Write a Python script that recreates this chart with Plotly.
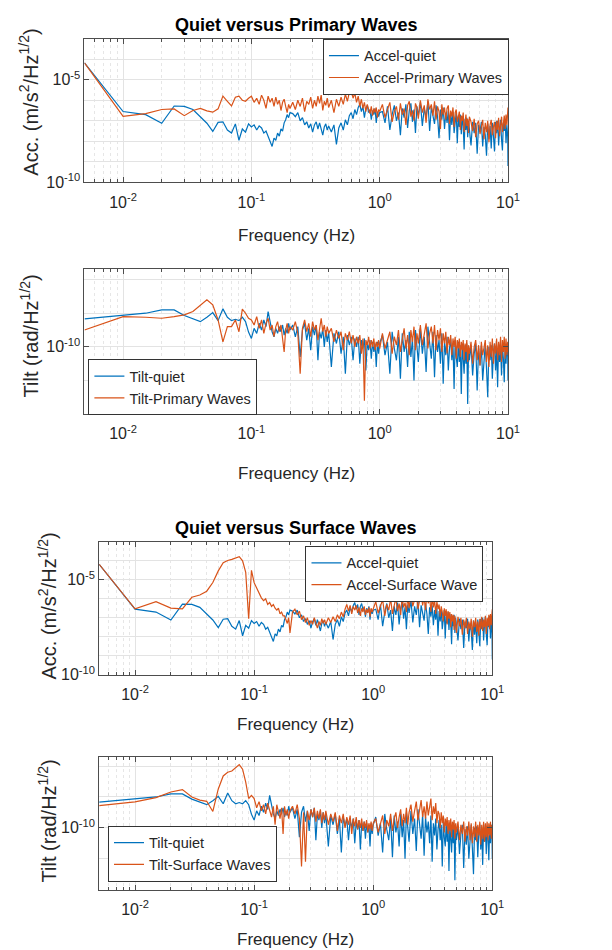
import plotly.graph_objects as go

# ---------------- frequency grid (FFT bins of 0.005 Hz, subsampled) ----------------
k_low = list(range(1, 41))                                   # 0.005 .. 0.200 Hz
k_mid = list(range(42, 81, 2)) + list(range(84, 201, 4))     # 0.21 .. 1.00 Hz
k_high = (list(range(210, 401, 10)) + list(range(415, 1001, 15))
          + list(range(1030, 1991, 30)) + [2000])            # 1.05 .. 10 Hz
freq = [round(k * 0.005, 4) for k in k_low + k_mid + k_high]

# ---------------- series values, log10 of amplitude ----------------
acc_quiet_log10 = [
    -4.18, -6.55, -6.70, -7.12, -6.28, -6.30, -6.45, -6.80, -7.12, -7.52,
    -7.08, -7.05, -7.45, -7.60, -7.15, -7.95, -7.40, -7.55, -7.15, -7.30,
    -7.20, -7.45, -7.25, -7.35, -7.60, -7.50, -7.75, -8.00, -8.25, -7.85,
    -7.95, -7.60, -7.75, -7.40, -7.50, -7.10, -6.95, -6.70, -6.85, -6.60,
    # mid
    -6.65, -6.80, -6.60, -7.00, -6.85, -7.20, -7.05, -7.35, -7.15, -7.55,
    -7.20, -7.05, -7.40, -7.10, -7.50, -7.70, -7.30, -7.15, -7.45, -7.25,
    -7.55, -7.20, -8.15, -7.35, -7.10, -7.45, -6.95, -7.20, -6.75, -6.60,
    -6.90, -6.45, -6.70, -6.35, -6.20, -6.55, -6.30, -6.85, -6.40, -6.25,
    -6.60, -6.45, -6.95, -6.50, -6.70, -6.40, -7.10, -6.55, -6.80, -6.60,
    # high
    -6.55, -7.10, -6.30, -7.45, -6.70, -6.25, -7.00, -6.60, -7.70, -6.40,
    -6.85, -6.20, -7.35, -6.50, -6.15, -7.05, -6.45, -7.60, -6.30, -6.75,
    -6.10, -7.25, -6.40, -6.85, -6.05, -7.50, -6.35, -6.70, -7.15, -6.25,
    -6.80, -7.85, -6.45, -6.95, -6.35, -7.40, -6.60, -7.10, -6.50, -7.95,
    -6.65, -7.20, -6.55, -7.60, -6.85, -6.60, -8.10, -6.75, -7.30, -6.70,
    -7.65, -6.80, -7.25, -8.40, -6.90, -7.45, -6.85, -7.80, -7.00, -7.35,
    -8.20, -7.05, -7.60, -7.10, -8.60, -7.20, -7.55, -7.05, -8.25, -7.30,
    -7.70, -8.70, -7.15, -7.90, -7.25, -8.35, -7.10, -7.75, -8.50, -7.05,
    -7.60, -7.00, -8.20, -7.35, -6.95, -7.90, -8.45, -7.10, -7.50, -6.90,
    -8.10, -7.20, -7.80, -9.20,
]

acc_primary_log10 = [
    -4.18, -6.78, -6.65, -6.45, -6.42, -6.75, -6.50, -6.40, -6.52, -6.58,
    -6.42, -5.80, -6.05, -6.28, -5.85, -5.80, -6.00, -6.05, -5.90, -5.80,
    -6.10, -5.90, -6.20, -5.75, -6.00, -6.40, -5.80, -6.10, -5.90, -6.30,
    -5.85, -6.20, -6.00, -6.50, -6.10, -5.95, -6.30, -6.60, -6.20, -6.40,
    # mid
    -6.10, -6.45, -6.00, -6.30, -5.90, -6.55, -6.05, -6.20, -5.85, -6.40,
    -6.00, -6.30, -5.80, -6.15, -5.75, -6.50, -6.05, -6.25, -5.90, -6.35,
    -6.00, -6.60, -5.95, -6.30, -5.85, -6.20, -5.70, -6.05, -5.60, -5.50,
    -5.90, -5.65, -6.10, -5.80, -6.30, -5.95, -6.40, -6.10, -6.55, -6.20,
    -6.45, -6.65, -6.30, -6.75, -6.40, -6.60, -6.35, -6.85, -6.45, -6.55,
    # high
    -6.20, -6.85, -6.45, -6.10, -7.05, -6.55, -6.30, -6.95, -6.15, -6.70,
    -6.40, -7.20, -6.25, -6.05, -6.80, -6.50, -7.00, -6.15, -6.35, -6.90,
    -6.00, -6.60, -6.25, -7.10, -5.95, -6.45, -6.20, -6.75, -6.05, -6.95,
    -6.30, -6.55, -7.40, -6.20, -6.70, -6.35, -6.95, -6.40, -6.25, -7.15,
    -6.50, -6.80, -6.35, -7.30, -6.60, -6.45, -7.05, -6.70, -6.55, -7.45,
    -6.75, -7.00, -6.60, -7.55, -6.85, -6.70, -7.25, -6.90, -7.60, -6.80,
    -7.05, -7.50, -6.90, -7.80, -7.15, -7.00, -7.65, -7.25, -6.95, -7.90,
    -7.10, -7.55, -7.00, -8.05, -7.20, -6.95, -7.70, -7.30, -7.05, -7.85,
    -7.00, -7.45, -6.85, -7.75, -7.10, -6.80, -7.55, -6.95, -6.75, -7.40,
    -6.70, -7.20, -6.60, -6.35,
]

acc_surface_log10 = [
    -4.18, -6.53, -6.15, -6.49, -6.53, -5.92, -5.80, -5.60, -5.14, -4.53,
    -4.10, -3.98, -3.92, -3.84, -3.78, -4.00, -4.60, -7.05, -4.50, -5.15,
    -5.45, -5.70, -5.95, -6.10, -6.00, -6.30, -6.20, -6.40, -6.30, -6.50,
    -6.60, -6.50, -6.80, -6.70, -6.90, -6.90, -7.10, -7.30, -7.00, -7.80,
    # mid
    -6.70, -6.55, -6.85, -6.65, -7.10, -6.90, -7.25, -7.00, -7.40, -7.15,
    -7.35, -7.00, -7.30, -7.55, -7.20, -7.40, -7.05, -7.30, -7.10, -7.35,
    -7.00, -7.25, -6.95, -7.20, -6.85, -7.05, -6.70, -6.95, -6.55, -6.30,
    -6.65, -6.35, -6.80, -6.40, -6.60, -6.35, -6.75, -6.45, -6.90, -6.50,
    -6.70, -6.40, -6.85, -6.55, -6.75, -6.45, -6.95, -6.50, -6.70, -6.55,
    # high
    -6.15, -6.75, -6.40, -6.05, -6.90, -6.30, -6.60, -6.00, -6.80, -6.35,
    -5.95, -6.65, -6.25, -6.85, -5.90, -6.45, -6.20, -6.70, -5.85, -6.50,
    -5.75, -6.40, -6.00, -5.70, -6.55, -6.10, -5.65, -6.35, -5.90, -6.60,
    -5.70, -6.25, -5.85, -6.70, -5.95, -6.45, -6.05, -6.80, -6.15, -6.55,
    -6.30, -6.95, -6.40, -6.70, -7.20, -6.50, -6.90, -6.55, -7.35, -6.65,
    -7.05, -6.70, -7.50, -6.80, -7.20, -6.85, -7.65, -6.90, -7.30, -7.80,
    -6.95, -7.45, -7.00, -7.90, -7.10, -7.55, -7.00, -7.85, -7.20, -7.60,
    -7.05, -8.00, -7.15, -7.50, -7.00, -7.75, -7.20, -7.95, -7.05, -7.60,
    -6.95, -7.70, -7.10, -7.50, -6.90, -7.85, -7.00, -7.45, -6.85, -7.60,
    -6.80, -7.40, -6.70, -6.55,
]

tilt_quiet_log10 = [
    -9.17, -9.07, -9.00, -8.90, -8.90, -9.07, -9.17, -9.25, -9.12, -8.98,
    -9.22, -8.87, -9.12, -9.22, -9.18, -9.22, -9.12, -9.25, -9.56, -9.75,
    -9.45, -9.60, -9.30, -9.50, -9.20, -9.40, -8.95, -9.30, -9.55, -9.70,
    -9.45, -9.60, -9.40, -9.55, -9.35, -9.65, -9.45, -9.60, -9.30, -9.50,
    # mid
    -9.35, -9.70, -9.40, -10.30, -9.50, -9.30, -9.80, -9.45, -10.10, -9.40,
    -9.65, -9.35, -10.40, -9.55, -9.75, -9.45, -10.00, -9.50, -9.85, -9.55,
    -10.60, -9.60, -9.90, -9.55, -10.20, -9.70, -10.80, -9.65, -9.95, -9.70,
    -10.40, -9.75, -10.00, -9.70, -10.50, -9.80, -10.05, -9.75, -10.70, -9.85,
    -10.10, -9.80, -10.35, -9.85, -10.15, -9.90, -10.60, -9.85, -10.20, -9.90,
    # high
    -9.65, -10.25, -9.85, -10.80, -9.55, -10.05, -10.40, -9.70, -10.95, -9.60,
    -10.15, -9.80, -10.60, -9.55, -10.30, -9.75, -11.00, -9.50, -10.10, -10.45,
    -9.45, -10.20, -9.70, -10.75, -9.40, -10.00, -10.35, -9.55, -10.90, -9.65,
    -10.15, -9.80, -10.50, -9.60, -11.10, -9.85, -10.25, -9.70, -10.70, -10.05,
    -9.75, -10.40, -9.90, -11.25, -9.80, -10.30, -10.60, -9.85, -10.45, -9.95,
    -11.40, -9.90, -10.35, -10.80, -9.95, -10.50, -9.90, -11.70, -10.10, -10.40,
    -9.95, -10.85, -10.20, -9.90, -11.30, -10.05, -10.55, -9.95, -11.00, -10.25,
    -9.90, -10.65, -11.50, -10.00, -10.40, -9.95, -10.95, -10.15, -9.90, -10.70,
    -10.05, -11.20, -9.90, -10.45, -10.00, -10.85, -9.95, -10.35, -11.05, -9.95,
    -10.50, -9.90, -10.30, -11.00,
]

tilt_primary_log10 = [
    -9.50, -9.10, -9.12, -9.15, -9.10, -9.05, -8.95, -8.75, -8.60, -8.75,
    -9.20, -9.85, -9.40, -9.40, -9.20, -9.55, -8.88, -9.00, -9.15, -9.20,
    -9.35, -9.10, -9.45, -9.20, -9.60, -9.30, -9.15, -9.50, -9.35, -9.70,
    -9.40, -9.25, -9.55, -9.35, -9.80, -10.15, -9.50, -9.30, -9.60, -9.40,
    # mid
    -9.50, -9.25, -9.60, -10.80, -9.45, -9.20, -9.55, -9.30, -9.70, -9.25,
    -9.50, -9.35, -9.80, -9.40, -9.15, -9.55, -9.35, -9.70, -9.40, -9.60,
    -9.45, -9.85, -9.50, -9.75, -9.55, -10.10, -9.60, -9.80, -9.55, -9.90,
    -9.65, -10.00, -9.70, -9.90, -9.65, -10.20, -9.75, -11.60, -9.80, -9.95,
    -9.70, -10.05, -9.80, -10.00, -9.75, -10.10, -9.85, -10.00, -9.80, -10.05,
    # high
    -9.60, -10.05, -9.80, -9.55, -10.20, -9.70, -9.95, -9.50, -10.15, -9.75,
    -9.45, -10.05, -9.65, -10.25, -9.50, -9.85, -9.40, -10.10, -9.60, -9.90,
    -9.35, -9.95, -9.55, -9.30, -10.05, -9.60, -9.40, -9.90, -9.35, -10.10,
    -9.50, -9.80, -9.45, -10.15, -9.60, -9.90, -9.55, -10.20, -9.70, -9.95,
    -9.65, -10.25, -9.75, -10.00, -9.70, -10.35, -9.80, -10.05, -9.75, -10.30,
    -9.85, -10.10, -9.80, -10.40, -9.90, -10.15, -9.80, -10.45, -9.95, -10.20,
    -9.85, -10.50, -10.00, -9.80, -10.40, -9.95, -10.55, -9.85, -10.25, -10.00,
    -9.80, -10.45, -9.95, -10.60, -9.85, -10.30, -9.75, -10.50, -9.90, -10.20,
    -9.75, -10.40, -9.85, -10.25, -9.70, -10.45, -9.80, -10.15, -9.70, -10.35,
    -9.75, -10.25, -9.85, -10.15,
]

tilt_surface_log10 = [
    -9.28, -9.16, -9.02, -8.84, -8.76, -9.00, -9.10, -9.14, -9.47, -8.74,
    -8.32, -8.20, -8.16, -8.05, -7.95, -8.10, -8.52, -9.05, -8.95, -9.05,
    -9.35, -9.15, -9.45, -9.25, -9.55, -9.20, -9.40, -9.65, -9.30, -9.90,
    -9.25, -9.45, -9.70, -9.35, -10.20, -9.30, -9.60, -9.40, -9.70, -9.45,
    # mid
    -9.30, -9.55, -9.25, -9.70, -11.25, -9.50, -11.10, -9.45, -9.75, -9.40,
    -9.65, -9.35, -9.80, -9.45, -9.70, -9.40, -9.85, -9.50, -9.75, -9.45,
    -9.90, -9.55, -9.80, -9.50, -10.10, -9.60, -9.85, -9.55, -10.00, -9.65,
    -9.90, -9.60, -10.20, -9.70, -9.95, -9.65, -10.05, -9.75, -10.00, -9.70,
    -10.10, -9.80, -10.00, -9.75, -10.15, -9.85, -10.05, -9.80, -10.10, -9.85,
    # high
    -9.70, -10.15, -9.85, -9.60, -10.20, -9.75, -9.95, -9.55, -10.10, -9.70,
    -9.50, -10.00, -9.65, -9.40, -9.95, -9.55, -9.85, -9.35, -9.90, -9.50,
    -9.25, -9.80, -9.45, -9.15, -9.75, -9.35, -9.10, -9.65, -9.30, -9.70,
    -9.15, -9.60, -9.35, -9.05, -9.75, -9.30, -9.55, -9.20, -9.85, -9.45,
    -9.55, -10.00, -9.50, -9.85, -9.60, -10.15, -9.70, -9.95, -9.65, -10.20,
    -9.75, -10.10, -9.70, -10.30, -9.80, -10.05, -9.75, -10.35, -9.85, -10.15,
    -9.80, -10.40, -9.90, -10.20, -9.80, -10.45, -9.95, -10.25, -9.80, -10.40,
    -9.85, -10.50, -9.95, -10.30, -9.80, -10.45, -9.90, -10.25, -9.80, -10.55,
    -9.90, -10.35, -9.80, -10.45, -9.85, -10.30, -9.80, -10.40, -9.85, -10.25,
    -9.80, -10.35, -9.90, -10.20,
]

x_tick_vals = [0.01, 0.1, 1, 10]
x_tick_text = ["10<sup>-2</sup>", "10<sup>-1</sup>", "10<sup>0</sup>", "10<sup>1</sup>"]
acc_tick_vals = [1e-10, 1e-5]
acc_tick_text = ["10<sup>-10</sup>", "10<sup>-5</sup>"]
tilt_tick_vals = [1e-10]
tilt_tick_text = ["10<sup>-10</sup>"]

panel_titles = ["Quiet versus Primary Waves", "Quiet versus Surface Waves"]

# ---------------- style ----------------
BLUE = "#0072BD"
ORANGE = "#D95319"
FONT = "Liberation Sans, Arial, sans-serif"
W, H = 612, 950

# plot boxes in pixels: (left, right, top, bottom)
boxes = [(78, 510, 31, 176), (78, 510, 264, 410), (93, 494, 539, 673), (93, 494, 756, 890)]


def dom(b):
    l, r, t, btm = b
    return [l / W, r / W], [1 - btm / H, 1 - t / H]


def tolin(vals):
    n = min(len(freq), len(vals))
    return freq[:n], [10 ** v for v in vals[:n]]


fig = go.Figure()

series = [
    (1, acc_quiet_log10, "Accel-quiet", BLUE, "legend"),
    (1, acc_primary_log10, "Accel-Primary Waves", ORANGE, "legend"),
    (2, tilt_quiet_log10, "Tilt-quiet", BLUE, "legend2"),
    (2, tilt_primary_log10, "Tilt-Primary Waves", ORANGE, "legend2"),
    (3, acc_quiet_log10, "Accel-quiet", BLUE, "legend3"),
    (3, acc_surface_log10, "Accel-Surface Wave", ORANGE, "legend3"),
    (4, tilt_quiet_log10, "Tilt-quiet", BLUE, "legend4"),
    (4, tilt_surface_log10, "Tilt-Surface Waves", ORANGE, "legend4"),
]
for p, vals, name, col, leg in series:
    xs, ys = tolin(vals)
    sfx = "" if p == 1 else str(p)
    fig.add_trace(go.Scatter(x=xs, y=ys, mode="lines", name=name,
                             line=dict(color=col, width=1.2),
                             xaxis="x" + sfx, yaxis="y" + sfx, legend=leg))

x_minor = [m * 10.0 ** e for e in range(-3, 1) for m in range(2, 10)]
x_minor = [v for v in x_minor if 0.005 <= v <= 10]

axis_common = dict(type="log", showline=True, linecolor="#4d4d4d", linewidth=1,
                   mirror="ticks", ticks="inside", ticklen=5, tickcolor="#4d4d4d",
                   showgrid=True, gridcolor="#e3e3e3", gridwidth=1, zeroline=False,
                   tickfont=dict(family=FONT, size=16, color="#262626"))

layout = dict(width=W, height=H, margin=dict(l=0, r=0, t=0, b=0),
              paper_bgcolor="white", plot_bgcolor="white", hovermode=False,
              font=dict(family=FONT, color="#262626"))

for i, b in enumerate(boxes):
    p = i + 1
    sfx = "" if p == 1 else str(p)
    xd, yd = dom(b)
    is_acc = p in (1, 3)
    xa = dict(axis_common, domain=xd, anchor="y" + sfx,
              range=[-2.30103, 1.0], tickmode="array",
              tickvals=x_tick_vals, ticktext=x_tick_text, ticklabelstandoff=5,
              minor=dict(tickmode="array", tickvals=x_minor, ticks="inside", ticklen=3,
                         tickcolor="#4d4d4d", showgrid=True, gridcolor="#e6e6e6",
                         griddash="dot", gridwidth=1))
    if is_acc:
        y_minor = [10.0 ** e for e in range(-10, -2) if e not in (-10, -5)]
        ya = dict(axis_common, domain=yd, anchor="x" + sfx, range=[-10, -3],
                  tickmode="array", tickvals=acc_tick_vals, ticktext=acc_tick_text)
    else:
        y_minor = [10.0 ** e for e in range(-12, -7) if e != -10]
        ya = dict(axis_common, domain=yd, anchor="x" + sfx, range=[-12, -7.7],
                  tickmode="array", tickvals=tilt_tick_vals, ticktext=tilt_tick_text)
    ya["minor"] = dict(tickmode="array", tickvals=y_minor, ticks="", showgrid=True,
                       gridcolor="#e3e3e3", gridwidth=1)
    layout["xaxis" + sfx] = xa
    layout["yaxis" + sfx] = ya

leg_common = dict(bgcolor="white", bordercolor="#333333", borderwidth=1,
                  font=dict(family=FONT, size=14.5, color="#262626"),
                  itemwidth=30, tracegroupgap=0)
layout["legend"] = dict(leg_common, x=511 / W, y=1 - 31 / H, xanchor="right", yanchor="top")
layout["legend2"] = dict(leg_common, x=82 / W, y=1 - 411 / H, xanchor="left", yanchor="bottom")
layout["legend3"] = dict(leg_common, x=485 / W, y=1 - 543 / H, xanchor="right", yanchor="top")
layout["legend4"] = dict(leg_common, x=102 / W, y=1 - 882 / H, xanchor="left", yanchor="bottom")

ann = []
# titles
ann.append(dict(text="<b>" + panel_titles[0] + "</b>", x=294 / W, y=1 - 17 / H))
ann.append(dict(text="<b>" + panel_titles[1] + "</b>", x=293.5 / W, y=1 - 525 / H))
for a in ann:
    a.update(xref="paper", yref="paper", showarrow=False, xanchor="center", yanchor="middle",
             font=dict(family=FONT, size=18, color="#000000"))
# x-axis titles
for cx, cy in [(294, 230), (294, 470), (293.5, 723), (293.5, 940)]:
    ann.append(dict(text="Frequency (Hz)", x=cx / W, y=1 - cy / H, xref="paper", yref="paper",
                    showarrow=False, xanchor="center", yanchor="middle",
                    font=dict(family=FONT, size=17, color="#262626")))
# y-axis titles
for txt, cx, cy in [("Acc. (m/s<sup>2</sup>/Hz<sup>1/2</sup>)", 21, 95),
                    ("Tilt (rad/Hz<sup>1/2</sup>)", 22, 331),
                    ("Acc. (m/s<sup>2</sup>/Hz<sup>1/2</sup>)", 40, 604),
                    ("Tilt (rad/Hz<sup>1/2</sup>)", 40, 821)]:
    ann.append(dict(text=txt, x=cx / W, y=1 - cy / H, xref="paper", yref="paper",
                    showarrow=False, xanchor="center", yanchor="middle", textangle=-90,
                    font=dict(family=FONT, size=20, color="#262626")))
layout["annotations"] = ann

fig.update_layout(**layout)
fig.write_html("out.html", config={"displayModeBar": False})
